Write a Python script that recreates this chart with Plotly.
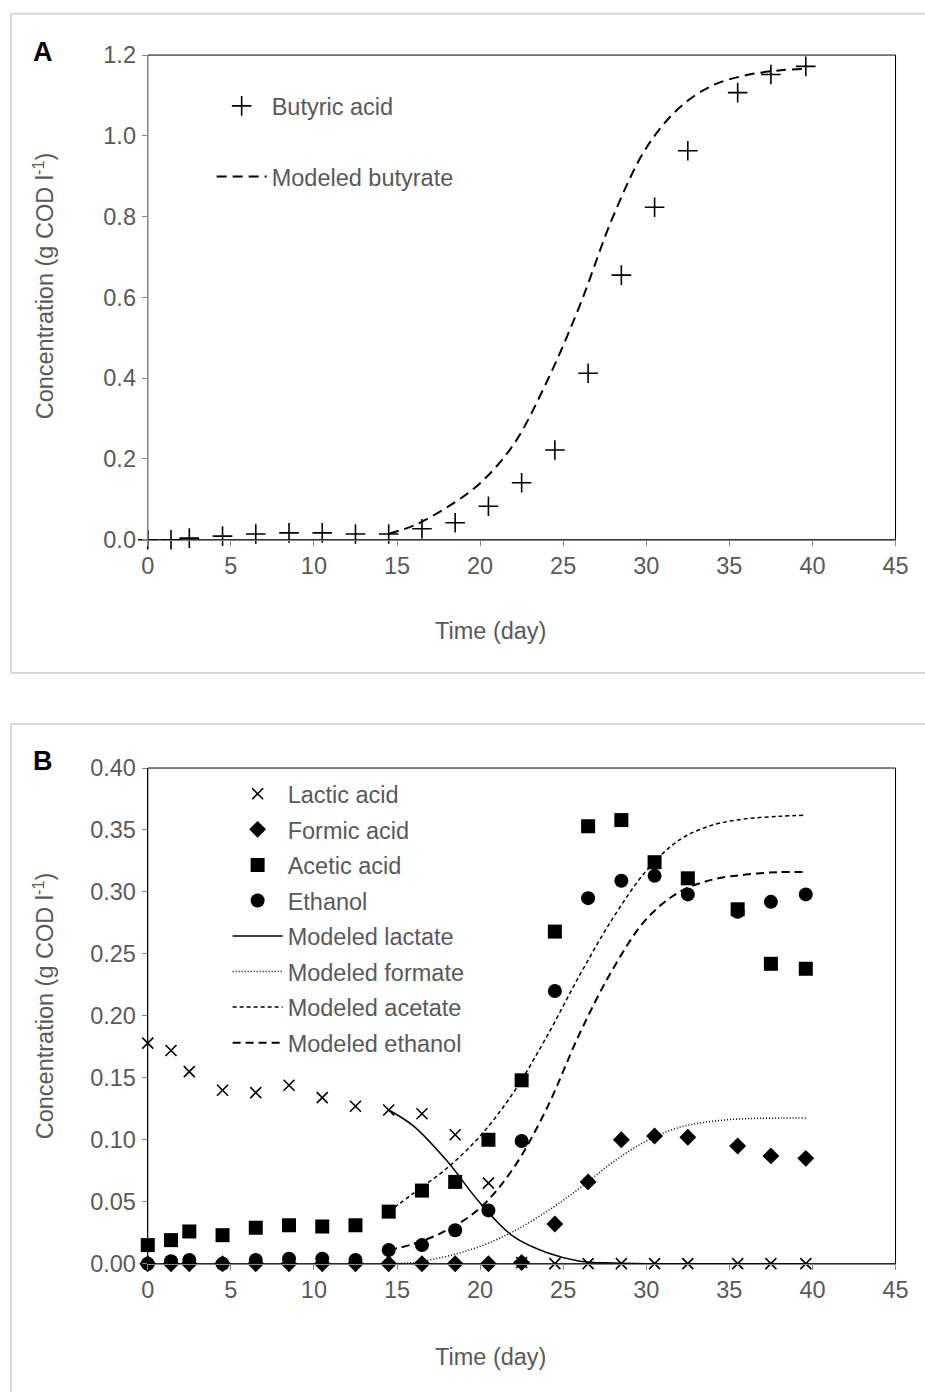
import plotly.graph_objects as go

W, H = 925, 1392

# Panel A - butyric acid
t_butyric = [0, 1.4, 2.5, 4.5, 6.5, 8.5, 10.5, 12.5, 14.5, 16.5, 18.5, 20.5,
             22.5, 24.5, 26.5, 28.5, 30.5, 32.5, 35.5, 37.5, 39.6]
butyric = [0, 0, 0.004, 0.009, 0.014, 0.017, 0.017, 0.014, 0.014, 0.027, 0.042, 0.083,
           0.141, 0.222, 0.412, 0.655, 0.823, 0.963, 1.107, 1.152, 1.172]
t_mod_butyrate = [14.5, 16, 18, 20, 22, 24, 26, 28, 30, 32, 34, 36, 38, 39.6]
mod_butyrate = [0.015, 0.035, 0.08, 0.14, 0.235, 0.39, 0.58, 0.8, 0.97, 1.07, 1.125, 1.15, 1.162, 1.166]

# Panel B - other products
t_b = [0, 1.4, 2.5, 4.5, 6.5, 8.5, 10.5, 12.5, 14.5, 16.5, 18.5, 20.5,
       22.5, 24.5, 26.5, 28.5, 30.5, 32.5, 35.5, 37.5, 39.6]
lactic = [0.178, 0.172, 0.155, 0.140, 0.138, 0.144, 0.134, 0.127, 0.124, 0.121, 0.104, 0.065,
          0.001, 0, 0, 0, 0, 0, 0, 0, 0]
formic = [0, 0, 0, 0, 0, 0, 0, 0, 0, 0, 0, 0,
          0.001, 0.032, 0.066, 0.100, 0.103, 0.102, 0.095, 0.087, 0.085]
acetic = [0.015, 0.019, 0.026, 0.023, 0.029, 0.031, 0.030, 0.031, 0.042, 0.059, 0.066, 0.100,
          0.148, 0.268, 0.353, 0.358, 0.324, 0.311, 0.286, 0.242, 0.238]
ethanol = [0, 0.002, 0.003, 0, 0.003, 0.004, 0.004, 0.003, 0.011, 0.015, 0.027, 0.043,
           0.099, 0.220, 0.295, 0.309, 0.313, 0.298, 0.284, 0.292, 0.298]

t_mod = [14.5, 16, 18, 20, 22, 24, 26, 28, 30, 32, 34, 36, 38, 39.6]
mod_lactate = [0.124, 0.111, 0.083, 0.049, 0.022, 0.009, 0.002, 0.0005, 0, 0, 0, 0, 0, 0]
mod_formate = [0, 0.001, 0.006, 0.014, 0.026, 0.042, 0.061, 0.082, 0.099, 0.110, 0.115, 0.117, 0.1175, 0.1175]
mod_acetate = [0.042, 0.057, 0.077, 0.103, 0.138, 0.183, 0.233, 0.279, 0.317, 0.342, 0.354, 0.359, 0.361, 0.362]
mod_ethanol = [0.011, 0.016, 0.027, 0.045, 0.077, 0.125, 0.186, 0.238, 0.278, 0.300, 0.310, 0.314, 0.316, 0.316]

FONT = "Liberation Sans, Arial, sans-serif"
GREY = "#595959"
FS = 23.5

# the photographed page comes out slightly shrunk and shifted, so positions are corrected
SC, OX, OY = 0.98, 5, 13


def px(x):
    return ((x - OX) / SC) / W


def py(y):
    return 1 - ((y - OY) / SC) / H


fig = go.Figure()

# panel A
fig.add_trace(go.Scatter(x=t_butyric, y=butyric, mode="markers", name="Butyric acid",
                         marker=dict(symbol="cross-thin-open", size=14, color="black",
                                     line=dict(color="black", width=1.6)),
                         xaxis="x", yaxis="y", legend="legend", legendgroup="a1", cliponaxis=False))
fig.add_trace(go.Scatter(x=t_mod_butyrate, y=mod_butyrate, mode="lines", name="Modeled butyrate",
                         line=dict(color="black", width=2, dash="10px,6px", shape="spline"),
                         xaxis="x", yaxis="y", legend="legend", legendgroup="a2"))

# panel B
fig.add_trace(go.Scatter(x=t_b, y=lactic, mode="markers", name="Lactic acid",
                         marker=dict(symbol="x-thin-open", size=11, color="black",
                                     line=dict(color="black", width=1.6)),
                         xaxis="x2", yaxis="y2", legend="legend2", legendgroup="b1", cliponaxis=False))
fig.add_trace(go.Scatter(x=t_b, y=formic, mode="markers", name="Formic acid",
                         marker=dict(symbol="diamond", size=13, color="black"),
                         xaxis="x2", yaxis="y2", legend="legend2", legendgroup="b2", cliponaxis=False))
fig.add_trace(go.Scatter(x=t_b, y=acetic, mode="markers", name="Acetic acid",
                         marker=dict(symbol="square", size=14, color="black"),
                         xaxis="x2", yaxis="y2", legend="legend2", legendgroup="b3", cliponaxis=False))
fig.add_trace(go.Scatter(x=t_b, y=ethanol, mode="markers", name="Ethanol",
                         marker=dict(symbol="circle", size=14, color="black"),
                         xaxis="x2", yaxis="y2", legend="legend2", legendgroup="b4", cliponaxis=False))
fig.add_trace(go.Scatter(x=t_mod, y=mod_lactate, mode="lines", name="Modeled lactate",
                         line=dict(color="black", width=1.5, shape="spline"),
                         xaxis="x2", yaxis="y2", legend="legend2", legendgroup="b5"))
fig.add_trace(go.Scatter(x=t_mod, y=mod_formate, mode="lines", name="Modeled formate",
                         line=dict(color="black", width=1.5, dash="1px,2px", shape="spline"),
                         xaxis="x2", yaxis="y2", legend="legend2", legendgroup="b6"))
fig.add_trace(go.Scatter(x=t_mod, y=mod_acetate, mode="lines", name="Modeled acetate",
                         line=dict(color="black", width=1.5, dash="4px,3px", shape="spline"),
                         xaxis="x2", yaxis="y2", legend="legend2", legendgroup="b7"))
fig.add_trace(go.Scatter(x=t_mod, y=mod_ethanol, mode="lines", name="Modeled ethanol",
                         line=dict(color="black", width=2, dash="8px,5px", shape="spline"),
                         xaxis="x2", yaxis="y2", legend="legend2", legendgroup="b8"))

xdom = [px(146), px(895)]
ax_common = dict(showline=True, linewidth=1.2, ticks="outside", ticklen=5,
                 tickcolor="#868686", showgrid=False, zeroline=False,
                 tickfont=dict(family=FONT, size=FS, color=GREY))

fig.update_layout(
    width=W, height=H, margin=dict(l=0, r=0, t=0, b=0),
    paper_bgcolor="white", plot_bgcolor="white",
    font=dict(family=FONT, size=FS, color=GREY),
    xaxis=dict(domain=xdom, range=[0, 45], dtick=5, anchor="y", linecolor="#868686", **ax_common),
    yaxis=dict(domain=[py(539), py(55)], range=[0, 1.2], dtick=0.2, tickformat=".1f",
               anchor="x", ticklabelstandoff=1, linecolor="#868686", **ax_common),
    xaxis2=dict(domain=xdom, range=[0, 45], dtick=5, anchor="y2", linecolor="#868686", **ax_common),
    yaxis2=dict(domain=[py(1262), py(767)], range=[0, 0.40], dtick=0.05, tickformat=".2f",
                anchor="x2", ticklabelstandoff=1, linecolor="black", **ax_common),
    legend=dict(x=px(210), y=py(84), xanchor="left", yanchor="top", bgcolor="rgba(0,0,0,0)",
                font=dict(family=FONT, size=FS, color=GREY), tracegroupgap=37, itemwidth=50),
    legend2=dict(x=px(226), y=py(771), xanchor="left", yanchor="top", bgcolor="rgba(0,0,0,0)",
                 font=dict(family=FONT, size=FS, color=GREY), tracegroupgap=2, itemwidth=50),
)

shapes = [
    # outer chart boxes
    dict(type="rect", xref="paper", yref="paper", x0=px(9), x1=px(940), y0=py(672), y1=min(py(12), 0.9995),
         line=dict(color="#d9d9d9", width=2), layer="below"),
    dict(type="rect", xref="paper", yref="paper", x0=px(9), x1=px(940), y0=py(1420), y1=py(723),
         line=dict(color="#d9d9d9", width=2), layer="below"),
    # plot area borders
    dict(type="rect", xref="x domain", yref="y domain", x0=0, x1=1, y0=0, y1=1,
         line=dict(color="black", width=1), layer="below"),
    dict(type="rect", xref="x2 domain", yref="y2 domain", x0=0, x1=1, y0=0, y1=1,
         line=dict(color="black", width=1), layer="below"),
]
fig.update_layout(shapes=shapes)

ann = []
for lab, y in [("A", 52), ("B", 760)]:
    ann.append(dict(text=f"<b>{lab}</b>", x=px(41), y=py(y)))
for y in [630, 1355]:
    ann.append(dict(text="Time (day)", x=px(489), y=py(y)))
for y in [285, 1004]:
    ann.append(dict(text="Concentration (g COD l<sup>-1</sup>)", x=px(42), y=py(y), textangle=-90))
for a in ann:
    a.update(xref="paper", yref="paper", xanchor="center", yanchor="middle", showarrow=False)
    a["font"] = dict(family=FONT, size=27 if a["text"].startswith("<b>") else FS,
                     color="black" if a["text"].startswith("<b>") else GREY)
fig.update_layout(annotations=ann)

# pin the plot to the top-left corner of the page
pin = ("document.body.style.margin='0';"
       "var d=document.getElementById('{plot_id}');"
       "d.style.position='fixed';d.style.left='0';d.style.top='0';")
fig.write_html("out.html", config={"displayModeBar": False}, post_script=pin)
